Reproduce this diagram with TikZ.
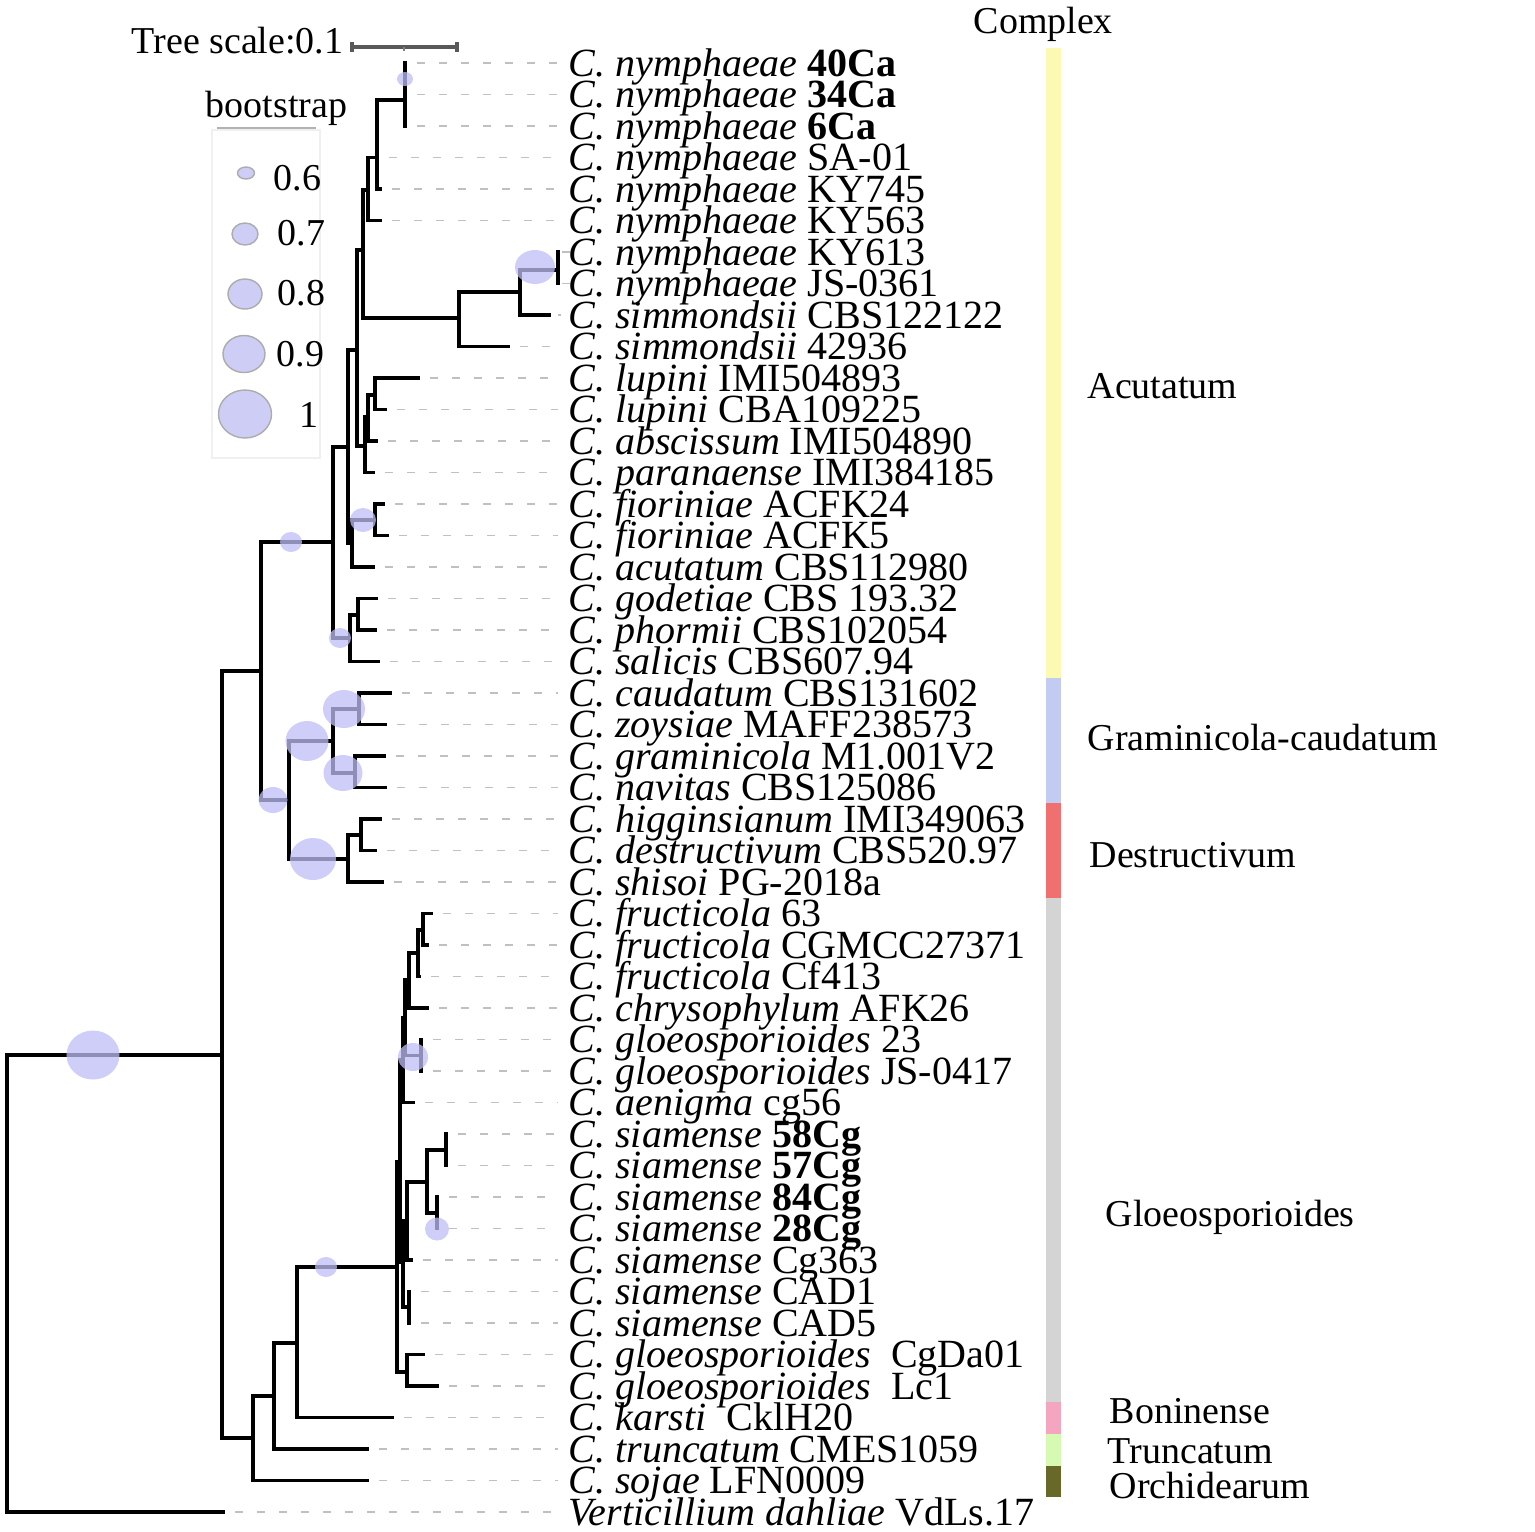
\documentclass[tikz,border=0pt]{standalone}
\usepackage{fontspec}
\setmainfont{Liberation Serif}
\usetikzlibrary{shapes.geometric}
\definecolor{bsfill}{RGB}{190,190,245}
\definecolor{lgfill}{RGB}{205,205,246}
\definecolor{acu}{RGB}{252,250,178}
\definecolor{gra}{RGB}{194,204,242}
\definecolor{des}{RGB}{240,112,112}
\definecolor{glo}{RGB}{212,212,212}
\definecolor{bon}{RGB}{244,166,192}
\definecolor{tru}{RGB}{214,250,178}
\definecolor{orc}{RGB}{104,104,40}
\definecolor{leadgray}{RGB}{192,192,192}
\newcommand\leaffont{\fontsize{11.38pt}{12pt}\selectfont}
\newcommand\otherfont{\fontsize{10.8pt}{12pt}\selectfont}
\begin{document}
\begin{tikzpicture}[x=0.01cm,y=-0.01cm,
  br/.style={line width=0.95pt,black,line cap=rect},
  leader/.style={draw=leadgray,line width=0.45pt,dash pattern=on 0.8mm off 1.4mm},
  leaf/.style={anchor=base west,inner sep=0pt,font=\leaffont},
  lab/.style={anchor=base west,inner sep=0pt,font=\otherfont},
  bsn/.style={ellipse,draw=none,fill=bsfill,fill opacity=0.75,inner sep=0pt},
  lgd/.style={ellipse,draw=gray!65,line width=0.4pt,fill=lgfill,inner sep=0pt},
  scalebar/.style={line width=1pt,draw=black!65}]
\useasboundingbox (0,0) rectangle (1535,1532);

% leaf labels and leaders
\foreach \i/\tip/\t in {
 0/405/{\textit{C. nymphaeae} \textbf{40Ca}},
 1/405/{\textit{C. nymphaeae} \textbf{34Ca}},
 2/405/{\textit{C. nymphaeae} \textbf{6Ca}},
 3/377/{\textit{C. nymphaeae} SA-01},
 4/380/{\textit{C. nymphaeae} KY745},
 5/380/{\textit{C. nymphaeae} KY563},
 6/558/{\textit{C. nymphaeae} KY613},
 7/558/{\textit{C. nymphaeae} JS-0361},
 8/549/{\textit{C. simmondsii} CBS122122},
 9/508/{\textit{C. simmondsii} 42936},
 10/418/{\textit{C. lupini} IMI504893},
 11/385/{\textit{C. lupini} CBA109225},
 12/376/{\textit{C. abscissum} IMI504890},
 13/373/{\textit{C. paranaense} IMI384185},
 14/383/{\textit{C. fioriniae} ACFK24},
 15/387/{\textit{C. fioriniae} ACFK5},
 16/373/{\textit{C. acutatum} CBS112980},
 17/376/{\textit{C. godetiae} CBS 193.32},
 18/375/{\textit{C. phormii} CBS102054},
 19/378/{\textit{C. salicis} CBS607.94},
 20/390/{\textit{C. caudatum} CBS131602},
 21/385/{\textit{C. zoysiae} MAFF238573},
 22/384/{\textit{C. graminicola} M1.001V2},
 23/385/{\textit{C. navitas} CBS125086},
 24/380/{\textit{C. higginsianum} IMI349063},
 25/375/{\textit{C. destructivum} CBS520.97},
 26/382/{\textit{C. shisoi} PG-2018a},
 27/431/{\textit{C. fructicola} 63},
 28/427/{\textit{C. fructicola} CGMCC27371},
 29/419/{\textit{C. fructicola} Cf413},
 30/427/{\textit{C. chrysophylum} AFK26},
 31/421/{\textit{C. gloeosporioides} 23},
 32/421/{\textit{C. gloeosporioides} JS-0417},
 33/413/{\textit{C. aenigma} cg56},
 34/446/{\textit{C. siamense} \textbf{58Cg}},
 35/446/{\textit{C. siamense} \textbf{57Cg}},
 36/437/{\textit{C. siamense} \textbf{84Cg}},
 37/437/{\textit{C. siamense} \textbf{28Cg}},
 38/411/{\textit{C. siamense} Cg363},
 39/409/{\textit{C. siamense} CAD1},
 40/409/{\textit{C. siamense} CAD5},
 41/423/{\textit{C. gloeosporioides}\ \ CgDa01},
 42/437/{\textit{C. gloeosporioides}\ \ Lc1},
 43/392/{\textit{C. karsti}\ \ CklH20},
 44/367/{\textit{C. truncatum} CMES1059},
 45/367/{\textit{C. sojae} LFN0009},
 46/223/{\textit{Verticillium dahliae} VdLs.17}} {
  \coordinate (t\i) at ({\tip+12},{63+31.5*\i});
  \coordinate (e\i) at (558,{63+31.5*\i});
  \draw[leader] (t\i) -- (e\i);
  \node[leaf] (l\i) at (568,{63+31.5*\i+13}) {\t};
}

% tree branches
\draw[br]
 (405,63) -- (405,126)
 (377,100) -- (405,100)
 (377,100) -- (377,189) -- (380,189)
 (368,157.5) -- (377,157.5)
 (368,157.5) -- (368,220.5) -- (380,220.5)
 (363,190) -- (368,190)
 (363,190) -- (363,318) -- (459,318)
 (459,292) -- (459,346.5) -- (508,346.5)
 (459,292) -- (520,292)
 (520,270) -- (520,315) -- (549,315)
 (520,270) -- (558,270)
 (558,252) -- (558,283.5)
 (357,250) -- (363,250)
 (357,250) -- (357,446) -- (365,446)
 (365,417) -- (365,472.5) -- (373,472.5)
 (365,417) -- (368,417)
 (368,395) -- (368,441) -- (376,441)
 (368,395) -- (375,395)
 (375,378) -- (375,409.5) -- (385,409.5)
 (375,378) -- (418,378)
 (348,350) -- (357,350)
 (348,350) -- (348,543) -- (352,543)
 (352,520) -- (352,567) -- (373,567)
 (352,520) -- (375,520)
 (375,504) -- (383,504)
 (375,504) -- (375,535.5) -- (387,535.5)
 (333,447) -- (348,447)
 (333,447) -- (333,638) -- (350,638)
 (350,615) -- (350,661.5) -- (378,661.5)
 (350,615) -- (358,615)
 (358,598.5) -- (376,598.5)
 (358,598.5) -- (358,630) -- (375,630)
 (261,542) -- (333,542)
 (261,542) -- (261,800) -- (289,800)
 (222,671) -- (261,671)
 (289,741) -- (289,859) -- (348,859)
 (289,741) -- (333,741)
 (333,709) -- (333,773) -- (355,773)
 (333,709) -- (359,709)
 (359,693) -- (390,693)
 (359,693) -- (359,724.5) -- (385,724.5)
 (355,756) -- (384,756)
 (355,756) -- (355,787.5) -- (385,787.5)
 (348,835) -- (348,882) -- (382,882)
 (348,835) -- (361,835)
 (361,819) -- (380,819)
 (361,819) -- (361,850.5) -- (375,850.5)
 (222,671) -- (222,1438) -- (253,1438)
 (7,1055) -- (222,1055)
 (7,1055) -- (7,1512) -- (223,1512)
 (253,1396) -- (253,1480.5) -- (367,1480.5)
 (253,1396) -- (274,1396)
 (274,1343) -- (274,1449) -- (367,1449)
 (274,1343) -- (297,1343)
 (297,1267) -- (297,1417.5) -- (392,1417.5)
 (297,1267) -- (397,1267)
 (397,1162) -- (397,1372) -- (407,1372)
 (407,1354.5) -- (423,1354.5)
 (407,1354.5) -- (407,1386) -- (437,1386)
 (397,1162) -- (400,1162)
 (400,1060) -- (400,1262) -- (403,1262)
 (400,1060) -- (403,1060)
 (403,1018) -- (403,1102.5) -- (413,1102.5)
 (403,1018) -- (405,1018)
 (405,980) -- (405,1055.5) -- (421,1055.5)
 (421,1039.5) -- (421,1071)
 (405,980) -- (409,980)
 (409,953) -- (409,1008) -- (427,1008)
 (409,953) -- (418,953)
 (418,930) -- (418,976.5) -- (419,976.5)
 (418,930) -- (423,930)
 (423,913.5) -- (431,913.5)
 (423,913.5) -- (423,945) -- (427,945)
 (403,1221) -- (403,1307) -- (409,1307)
 (409,1291.5) -- (409,1323)
 (403,1221) -- (407,1221)
 (407,1182) -- (407,1260) -- (411,1260)
 (407,1182) -- (427,1182)
 (427,1150) -- (427,1213) -- (437,1213)
 (427,1150) -- (446,1150)
 (446,1134) -- (446,1165.5)
 (437,1197) -- (437,1228.5);

% bootstrap circles on tree
\node[bsn,minimum width=1.6mm,minimum height=1.4mm] (b1) at (405,79) {};
\node[bsn,minimum width=4.0mm,minimum height=3.4mm] (b2) at (535,267) {};
\node[bsn,minimum width=2.6mm,minimum height=2.4mm] (b3) at (363,520) {};
\node[bsn,minimum width=2.2mm,minimum height=2.0mm] (b4) at (291,542) {};
\node[bsn,minimum width=2.2mm,minimum height=2.0mm] (b5) at (340,638) {};
\node[bsn,minimum width=2.9mm,minimum height=2.6mm] (b6) at (273,800) {};
\node[bsn,minimum width=4.3mm,minimum height=4.0mm] (b7) at (307,741) {};
\node[bsn,minimum width=4.2mm,minimum height=3.8mm] (b8) at (344,709) {};
\node[bsn,minimum width=3.9mm,minimum height=3.6mm] (b9) at (343,773) {};
\node[bsn,minimum width=4.6mm,minimum height=4.2mm] (b10) at (313,859) {};
\node[bsn,minimum width=5.3mm,minimum height=4.9mm] (b11) at (93,1055) {};
\node[bsn,minimum width=3.0mm,minimum height=2.8mm] (b12) at (413,1057) {};
\node[bsn,minimum width=2.4mm,minimum height=2.3mm] (b13) at (437,1229) {};
\node[bsn,minimum width=2.2mm,minimum height=2.0mm] (b14) at (326,1267) {};

% tree scale
\node[lab] (ts) at (131,53) {Tree scale:0.1};
\coordinate (sa) at (352,47);
\coordinate (sb) at (457,47);
\draw[scalebar] (sa) -- (sb);
\draw[scalebar] ([yshift=0.5mm]sa) -- ([yshift=-0.5mm]sa);
\draw[scalebar] ([yshift=0.5mm]sb) -- ([yshift=-0.5mm]sb);
\draw[line width=0.4pt,black!50] (404,47) -- (404,51);

% legend
\node[lab] (bst) at (205,117) {bootstrap};
\draw[line width=0.8pt,gray!60] (217,128) -- (316,128);
\draw[line width=0.3pt,black!6] (212,130) rectangle (320,458);
\node[lgd,minimum width=1.7mm,minimum height=1.2mm] (g1) at (246,173) {};
\node[lgd,minimum width=2.6mm,minimum height=2.2mm] (g2) at (245,234) {};
\node[lgd,minimum width=3.4mm,minimum height=3.0mm] (g3) at (245,294) {};
\node[lgd,minimum width=4.2mm,minimum height=3.7mm] (g4) at (244,354) {};
\node[lgd,minimum width=5.3mm,minimum height=4.8mm] (g5) at (245,414) {};
\node[lab] (v1) at (273,190) {0.6};
\node[lab] (v2) at (277,245) {0.7};
\node[lab] (v3) at (277,305) {0.8};
\node[lab] (v4) at (276,366) {0.9};
\node[lab] (v5) at (299,427) {1};

% complex bar
\node[lab] (cx) at (973,33) {Complex};
\fill[acu] (1046,48) rectangle (1061,678);
\fill[gra] (1046,678) rectangle (1061,803);
\fill[des] (1046,803) rectangle (1061,898);
\fill[glo] (1046,898) rectangle (1061,1402);
\fill[bon] (1046,1402) rectangle (1061,1434);
\fill[tru] (1046,1434) rectangle (1061,1466);
\fill[orc] (1046,1466) rectangle (1061,1497);
\node[lab] (c1) at (1087,398) {Acutatum};
\node[lab] (c2) at (1087,750) {Graminicola-caudatum};
\node[lab] (c3) at (1089,867) {Destructivum};
\node[lab] (c4) at (1105,1226) {Gloeosporioides};
\node[lab] (c5) at (1109,1423) {Boninense};
\node[lab] (c6) at (1107,1463) {Truncatum};
\node[lab] (c7) at (1109,1498) {Orchidearum};
\end{tikzpicture}
\end{document}
